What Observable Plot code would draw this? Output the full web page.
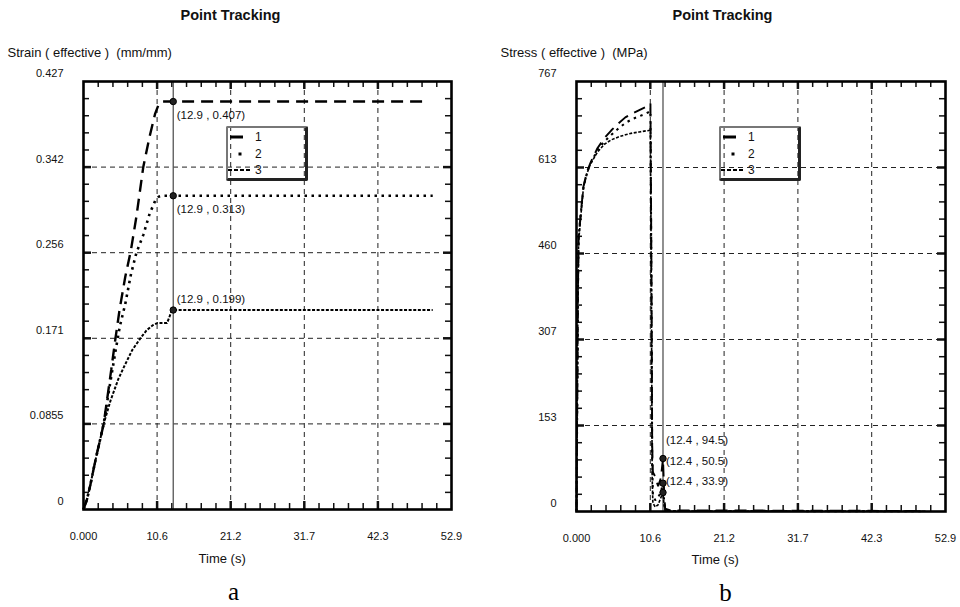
<!DOCTYPE html>
<html>
<head>
<meta charset="utf-8">
<script src="https://cdn.jsdelivr.net/npm/d3@7"></script>
<script src="https://cdn.jsdelivr.net/npm/@observablehq/plot@0.6"></script>
<style>
  body { margin: 0; background: white; }
  #wrap { position: relative; width: 960px; height: 607px; background: white; font-family: "Liberation Sans", Arial, sans-serif; }
  .panel { position: absolute; top: 0; }
  .legend { position: absolute; width: 77px; height: 50px; border-top: 2px solid #777; border-left: 2px solid #777; border-right: 3px solid #222; border-bottom: 3px solid #222; border-radius: 2px; }
  .legend svg { position: absolute; left: 0; top: 0; }
</style>
</head>
<body>
<div id="wrap">
  <div id="left" class="panel" style="left:0"></div>
  <div id="right" class="panel" style="left:480px"></div>
</div>
<script>
// ---- tick values and labels ----
const timeTickValues = [0, 10.58, 21.16, 31.74, 42.32, 52.9];
const timeTickLabels = ["0.000", "10.6", "21.2", "31.7", "42.3", "52.9"];
const strainTickValues = [0, 0.0854, 0.1708, 0.2562, 0.3416, 0.427];
const strainTickLabels = ["0", "0.0855", "0.171", "0.256", "0.342", "0.427"];
const stressTickValues = [0, 153.4, 306.8, 460.2, 613.6, 767];
const stressTickLabels = ["0", "153", "307", "460", "613", "767"];
const seriesNames = ["1", "2", "3"];

// ---- (a) strain (effective), mm/mm ----
const strainTime1 = [0, 0.5, 1, 1.5, 2, 2.5, 2.9, 3.5, 4, 4.6, 5.2, 6, 6.8, 7.6, 8.6, 9.5, 10.3, 10.8, 11.3, 12.9, 49.6];
const strain1 = [0, 0.010, 0.025, 0.042, 0.058, 0.073, 0.0855, 0.115, 0.140, 0.171, 0.200, 0.232, 0.258, 0.292, 0.342, 0.372, 0.395, 0.404, 0.407, 0.407, 0.407];
const strainTime2 = [0, 0.5, 1, 1.5, 2, 2.5, 2.9, 3.5, 4, 4.6, 5.2, 6, 6.8, 7.6, 8.6, 9.5, 10.3, 10.8, 11.3, 12.9, 50.2];
const strain2 = [0, 0.010, 0.025, 0.042, 0.058, 0.073, 0.0855, 0.112, 0.133, 0.158, 0.182, 0.205, 0.234, 0.256, 0.274, 0.295, 0.308, 0.312, 0.313, 0.313, 0.313];
const strainTime3 = [0, 0.5, 1, 1.5, 2, 2.5, 2.9, 3.9, 5, 5.8, 7, 8.2, 9.1, 10, 10.6, 12.0, 12.3, 12.6, 12.9, 50.2];
const strain3 = [0, 0.010, 0.025, 0.042, 0.058, 0.073, 0.0855, 0.109, 0.130, 0.142, 0.159, 0.171, 0.179, 0.184, 0.186, 0.186, 0.191, 0.197, 0.199, 0.199];
const strainTrackTime = 12.9;
const strainTrackValues = [0.407, 0.313, 0.199];

// ---- (b) stress (effective), MPa ----
const stressTime = [0, 0.1, 0.2, 0.3, 0.6, 1.0, 1.5, 2.0, 3.0, 4.0, 5.0, 6.0, 7.0, 8.0, 9.0, 10.0, 10.6, 10.75, 10.85, 10.95, 11.3, 11.7, 12.1, 12.4, 12.55, 12.7, 13.5, 50.0];
const stress1 = [0, 180, 380, 490, 530, 580, 606, 622, 648, 666, 680, 692, 703, 710, 716, 722, 728, 420, 120, 70, 62, 45, 60, 94.5, 40, 5, 2, 1];
const stress2 = [0, 180, 380, 490, 530, 578, 604, 620, 645, 660, 672, 683, 693, 700, 705, 710, 714, 380, 90, 30, 20, 25, 35, 50.5, 20, 3, 1, 0.5];
const stress3 = [0, 170, 370, 480, 525, 578, 603, 620, 641, 655, 663, 668, 672, 675, 677, 679, 680, 350, 60, 15, 8, 12, 25, 33.9, 12, 2, 1, 0.5];
const stressTrackTime = 12.4;
const stressTrackValues = [94.5, 50.5, 33.9];

const toRows = (ts, vs) => ts.map((t, i) => ({t, v: vs[i]}));

const lineStyles = [
  {strokeDasharray: "12,7", strokeWidth: 2.4},
  {strokeDasharray: "2.5,4.5", strokeWidth: 2.6},
  {strokeDasharray: "3,1.6", strokeWidth: 2}
];

function minorTicks(values) {
  const out = [];
  for (let i = 0; i < values.length - 1; i++) {
    const step = (values[i + 1] - values[i]) / 5;
    for (let k = 1; k < 5; k++) out.push(values[i] + k * step);
  }
  return out;
}

function panel(cfg) {
  const W = 480, H = 607;
  const fw = W - cfg.marginLeft - cfg.marginRight;
  const fh = H - cfg.marginTop - cfg.marginBottom;
  const xMinor = minorTicks(timeTickValues);
  const yMinor = minorTicks(cfg.yTicks);
  const xMajorIn = timeTickValues.slice(1, -1);
  const yMajorIn = cfg.yTicks.slice(1, -1);
  const marks = [
    // grid
    Plot.ruleX(xMajorIn, {stroke: "#222", strokeWidth: 1, strokeDasharray: "5,4"}),
    Plot.ruleY(yMajorIn, {stroke: "#222", strokeWidth: 1, strokeDasharray: "5,4"}),
    // minor ticks, inward on all four sides
    Plot.ruleX(xMinor, {stroke: "#111", strokeWidth: 1.5, insetBottom: fh - 6}),
    Plot.ruleX(xMinor, {stroke: "#111", strokeWidth: 1.5, insetTop: fh - 6}),
    Plot.ruleY(yMinor, {stroke: "#111", strokeWidth: 1.5, insetRight: fw - 6}),
    Plot.ruleY(yMinor, {stroke: "#111", strokeWidth: 1.5, insetLeft: fw - 6}),
    // major ticks
    Plot.ruleX(xMajorIn, {stroke: "#111", strokeWidth: 2.5, insetBottom: fh - 8}),
    Plot.ruleX(xMajorIn, {stroke: "#111", strokeWidth: 2.5, insetTop: fh - 8}),
    Plot.ruleY(yMajorIn, {stroke: "#111", strokeWidth: 2.5, insetRight: fw - 8}),
    Plot.ruleY(yMajorIn, {stroke: "#111", strokeWidth: 2.5, insetLeft: fw - 8}),
    // tracking line
    Plot.ruleX([cfg.trackTime], {stroke: "#555", strokeWidth: 1.3}),
  ];
  cfg.series.forEach((rows, i) => {
    marks.push(Plot.line(rows, {x: "t", y: "v", stroke: "#000", ...lineStyles[i],
      strokeWidth: lineStyles[i].strokeWidth * cfg.lineScale, strokeLinecap: "butt", strokeLinejoin: "miter"}));
  });
  marks.push(
    Plot.dot(cfg.trackValues, {x: () => cfg.trackTime, y: d => d, r: 3.2, fill: "#222", stroke: "#000", strokeWidth: 1})
  );
  cfg.trackValues.forEach((v, i) => {
    marks.push(Plot.text([v], {x: () => cfg.trackTime, y: d => d, text: d => `(${cfg.trackTime} , ${d})`,
      textAnchor: "start", lineAnchor: "bottom", dx: cfg.trackDx, dy: cfg.trackDy[i], fontSize: 11.5, fill: "#111"}));
  });
  marks.push(
    Plot.frame({stroke: "#000", strokeWidth: 2.6}),
    // tick labels
    Plot.text(timeTickValues, {x: d => d, frameAnchor: "bottom", text: (d) => timeTickLabels[timeTickValues.indexOf(d)],
      lineAnchor: "bottom", dy: cfg.xLabelDy, fontSize: 11, fill: "#111"}),
    Plot.text(cfg.yTicks, {y: d => d, frameAnchor: "left", text: (d) => cfg.yLabels[cfg.yTicks.indexOf(d)],
      textAnchor: "end", lineAnchor: "bottom", dx: -20, dy: -4.5, fontSize: 11, fill: "#111"}),
    // titles
    Plot.text(["Point Tracking"], {frameAnchor: "top-left", text: d => d, dx: cfg.titleDx, dy: -61.5, lineAnchor: "bottom",
      textAnchor: "middle", fontSize: 14.5, fontWeight: "bold", fill: "#111"}),
    Plot.text([cfg.yTitle], {frameAnchor: "top-left", text: d => d, dx: -76, dy: -25, lineAnchor: "bottom",
      textAnchor: "start", fontSize: 13, fill: "#111"}),
    Plot.text(["Time (s)"], {frameAnchor: "bottom-left", text: d => d, dx: 138.7, dy: cfg.xTitleDy, lineAnchor: "bottom",
      textAnchor: "middle", fontSize: 13, fill: "#111"}),
    Plot.text([cfg.caption], {frameAnchor: "bottom-left", text: d => d, dx: cfg.captionDx, dy: cfg.captionDy, lineAnchor: "bottom",
      textAnchor: "middle", fontSize: 25, fontFamily: "Liberation Serif, Times New Roman, serif", fill: "#000"})
  );
  const svg = Plot.plot({
    width: W, height: H,
    marginLeft: cfg.marginLeft, marginRight: cfg.marginRight, marginTop: cfg.marginTop, marginBottom: cfg.marginBottom,
    style: {fontFamily: "Liberation Sans, Arial, sans-serif", background: "transparent", overflow: "visible"},
    x: {domain: [0, 52.9], axis: null},
    y: {domain: cfg.yDomain, axis: null},
    marks
  });
  svg.querySelectorAll("text").forEach(t => t.style.whiteSpace = "pre");
  return svg;
}

document.getElementById("left").appendChild(panel({
  marginLeft: 83, marginRight: 29, marginTop: 81, marginBottom: 98,
  yDomain: [0, 0.427], yTicks: strainTickValues, yLabels: strainTickLabels,
  series: [toRows(strainTime1, strain1), toRows(strainTime2, strain2), toRows(strainTime3, strain3)],
  lineScale: 1,
  trackTime: strainTrackTime, trackValues: strainTrackValues, trackDx: 3.5, trackDy: [17, 17.4, -6.8],
  xLabelDy: 30.5, xTitleDy: 53.7, titleDx: 147, captionDx: 150, captionDy: 90,
  yTitle: "Strain ( effective )  (mm/mm)", caption: "a"
}));

document.getElementById("right").appendChild(panel({
  marginLeft: 96, marginRight: 15, marginTop: 81, marginBottom: 96,
  yDomain: [0, 767], yTicks: stressTickValues, yLabels: stressTickLabels,
  series: [toRows(stressTime, stress1), toRows(stressTime, stress2), toRows(stressTime, stress3)],
  lineScale: 0.8,
  trackTime: stressTrackTime, trackValues: stressTrackValues, trackDx: 3, trackDy: [-14.5, -18.4, -7.7],
  xLabelDy: 30, xTitleDy: 52, titleDx: 146, captionDx: 149, captionDy: 89,
  yTitle: "Stress ( effective )  (MPa)", caption: "b"
}));

// ---- legends ----
function legend(left, top) {
  const div = document.createElement("div");
  div.className = "legend";
  div.style.left = left + "px";
  div.style.top = top + "px";
  const ns = "http://www.w3.org/2000/svg";
  const s = document.createElementNS(ns, "svg");
  s.setAttribute("width", 78); s.setAttribute("height", 50);
  const rowsY = [9, 26, 42];
  const samples = [
    `<line x1="2" x2="15" y1="${rowsY[0]}" y2="${rowsY[0]}" stroke="#000" stroke-width="3"/>`,
    `<rect x="10.5" y="${rowsY[1] - 1.5}" width="3" height="3" fill="#000"/>`,
    `<line x1="0" x2="22" y1="${rowsY[2]}" y2="${rowsY[2]}" stroke="#000" stroke-width="2" stroke-dasharray="4,2"/>`
  ];
  s.innerHTML = samples.join("") + seriesNames.map((n, i) =>
    `<text x="27" y="${rowsY[i] + 4}" font-size="12" font-family="Liberation Sans, Arial, sans-serif" fill="#111">${n}</text>`).join("");
  div.appendChild(s);
  document.getElementById("wrap").appendChild(div);
}
legend(226, 126);
legend(719, 126);
</script>
</body>
</html>
